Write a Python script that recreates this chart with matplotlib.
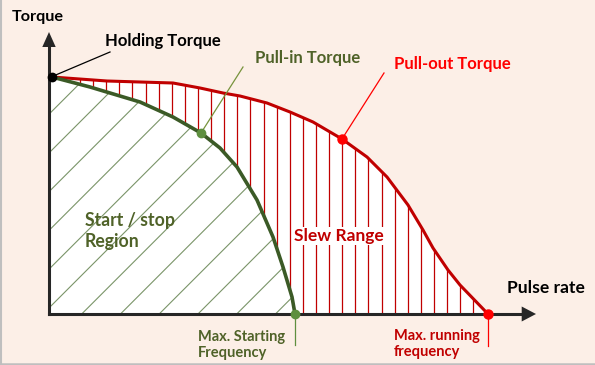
import matplotlib
matplotlib.use("Agg")
import matplotlib.pyplot as plt
from matplotlib.patches import Polygon

# curves (pulse rate -> torque, arbitrary units)
pullout_x = [3, 58, 124, 151, 174, 191, 218, 241, 264, 293, 318, 338, 359, 374, 384, 399, 411, 439]
pullout_y = [237, 233, 231, 226, 221, 218, 211, 202, 192, 175, 157, 137, 109, 84, 66, 44, 29, 0]
pullin_x = [3, 41, 91, 124, 152, 171, 188, 208, 224, 234, 243, 246]
pullin_y = [237, 227, 212, 197, 181, 166, 147, 114, 77, 47, 17, 0]

holding = (2.7, 237.3)
pullin_pt = (152, 181)
pullout_pt = (293, 175)
max_start = 246
max_run = 439

BG = "#FCEFE7"; AX = "#262626"
GREEN = "#3B5A26"; OLIVE = "#4F6228"; DRED = "#C00000"; RED = "#FF0000"

plt.rcParams["font.family"] = ["Lato", "DejaVu Sans"]
fig = plt.figure(figsize=(5.95, 3.65), dpi=100, facecolor=BG)
ax = fig.add_axes([0, 0, 1, 1])
ax.set_xlim(-49, 546); ax.set_ylim(-51, 314)
ax.axis("off")

# white region under the pull-out curve, with vertical red lines
red_poly = Polygon([(0, 0), (0, 237)] + list(zip(pullout_x, pullout_y)), closed=True,
                   fc="white", ec="none", zorder=1)
ax.add_patch(red_poly)
xs = [31 + 13.11 * k for k in range(31)]
vl = ax.vlines(xs, 0, 300, color=DRED, lw=0.9, zorder=2)
vl.set_clip_path(red_poly)

# start/stop region, white with diagonal hatch lines
green_poly = Polygon([(0, 0), (0, 237)] + list(zip(pullin_x, pullin_y)), closed=True,
                     fc="white", ec="none", zorder=3)
ax.add_patch(green_poly)
for k in range(-7, 7):
    c = 32.7 + 38.75 * k
    ln, = ax.plot([c - 300, c + 300], [-300, 300], color="#7A9468", lw=0.8, zorder=4)
    ln.set_clip_path(green_poly)

# curves
ax.plot(pullout_x, pullout_y, color=DRED, lw=2.2, zorder=6, solid_joinstyle="round")
ax.plot(pullin_x, pullin_y, color=GREEN, lw=2.6, zorder=7, solid_joinstyle="round")

# axes with arrow heads
ax.plot([0, 0], [0, 268], color=AX, lw=2.2, zorder=8, solid_capstyle="projecting")
ax.plot([0, 474], [0, 0], color=AX, lw=2.2, zorder=8, solid_capstyle="projecting")
ax.fill([-6.7, 6.7, 0], [267, 267, 282], color=AX, zorder=8, lw=0)
ax.fill([472.7, 472.7, 487], [-7.5, 7.5, 0], color=AX, zorder=8, lw=0)

# leader lines
ax.plot([holding[0], 61], [holding[1], 262], color="black", lw=0.9, zorder=9)
ax.plot([pullin_pt[0], 194], [pullin_pt[1], 247], color="#77933C", lw=0.9, zorder=9)
ax.plot([pullout_pt[0], 335], [pullout_pt[1], 241], color=RED, lw=0.9, zorder=9)
ax.plot([max_start, max_start], [0, -31], color="#5E8F3F", lw=0.9, zorder=9)
ax.plot([max_run, max_run], [0, -32], color=RED, lw=0.9, zorder=9)

# points
ax.plot(*holding, "o", color="black", ms=6, zorder=10)
ax.plot(*pullin_pt, "o", color="#5E8F3F", ms=6, zorder=10)
ax.plot(*pullout_pt, "o", color=RED, ms=6.5, zorder=10)
ax.plot(max_start, 0, "o", color="#5E8F3F", ms=6, zorder=10)
ax.plot(max_run, 0, "o", color=RED, ms=6.5, zorder=10)

# labels
kw = dict(fontweight="bold", ha="left", va="center", zorder=11)
ax.text(-37, 297, "Torque", fontsize=11.7, color="black", **kw)
ax.text(56, 273, "Holding Torque", fontsize=12, color="black", **kw)
ax.text(206, 256, "Pull-in Torque", fontsize=12, color=OLIVE, **kw)
ax.text(345, 250, "Pull-out Torque", fontsize=12, color=RED, **kw)
ax.text(36, 83, "Start / stop\nRegion", fontsize=12.7, color=OLIVE, linespacing=1.25, **kw)
ax.text(245, 78, "Slew Range", fontsize=12.5, color=DRED,
        bbox=dict(fc="white", ec="none", pad=1), **kw)
ax.text(458, 26, "Pulse rate", fontsize=12.6, color="black", **kw)
ax.text(149, -31, "Max. Starting\nFrequency", fontsize=10.5, color=OLIVE, linespacing=1.2, **kw)
ax.text(345, -30, "Max. running\nfrequency", fontsize=10.5, color=DRED, linespacing=1.2, **kw)

# frame edges (left and bottom)
ax.plot([-48.5, -48.5], [-51, 314], color="#BFBFBF", lw=1.5, zorder=12)
ax.plot([-49, 546], [-50, -50], color="#BFBFBF", lw=1.8, zorder=12)

fig.savefig("out.png", dpi=100, facecolor=BG)
